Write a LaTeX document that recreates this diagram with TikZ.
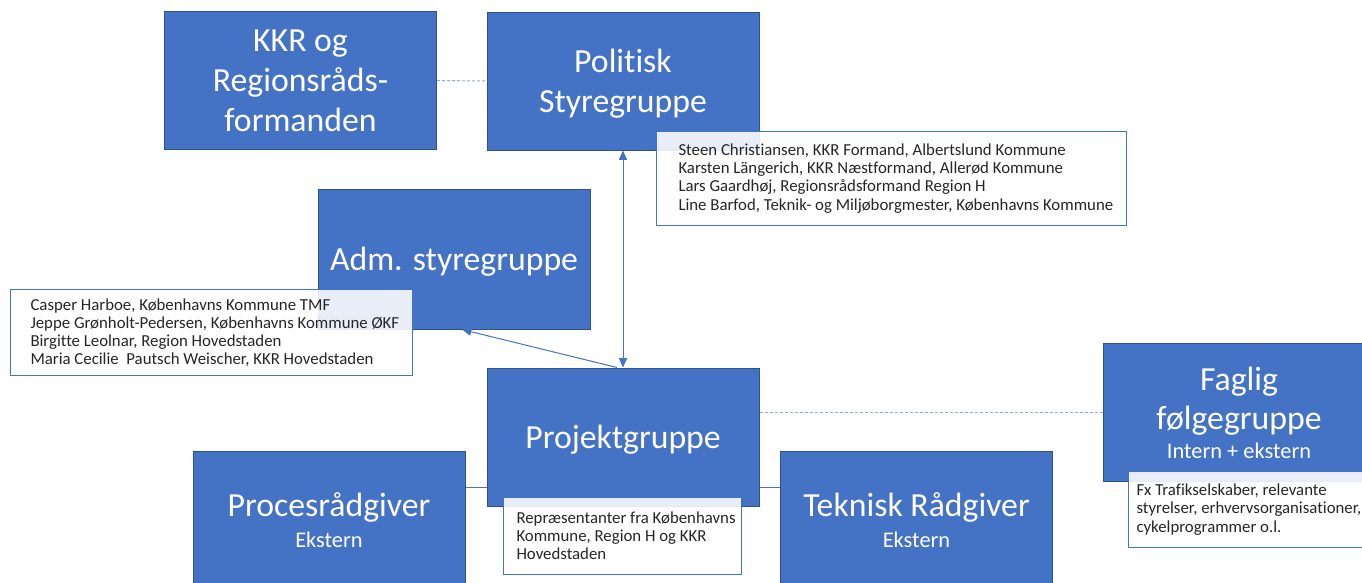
\documentclass[tikz,border=0pt]{standalone}
\usepackage{fontspec}
\setmainfont{Carlito}[Ligatures=NoCommon]
\usetikzlibrary{arrows.meta}

\definecolor{boxblue}{RGB}{68,114,196}
\definecolor{boxedge}{RGB}{47,82,143}
\definecolor{linkblue}{RGB}{68,114,196}
\definecolor{dashblue}{RGB}{143,170,220}
\definecolor{infotxt}{RGB}{38,38,38}

\tikzset{every picture/.style={line width=0.75pt}}
\tikzset{
  orgbox/.style={draw=boxedge, fill=boxblue, text=white, minimum width=204pt, minimum height=103.5pt, align=center, inner sep=0pt, text depth=0pt, font=\fontsize{25.3}{29.8}\selectfont},
  infobox/.style={draw=linkblue, fill=white, fill opacity=0.88, draw opacity=1, anchor=north west, inner sep=0pt},
  infotext/.style={anchor=west, align=left, inner sep=0pt, text=infotxt, font=\fontsize{12.6}{13.6}\selectfont},
  link/.style={draw=linkblue, line width=0.75pt},
  dashlink/.style={draw=dashblue, line width=0.75pt, dash pattern=on 2.25pt off 1.5pt},
  tiphead/.style={-{Triangle[length=7pt,width=6pt]}},
  bothheads/.style={{Triangle[length=7pt,width=6pt]}-{Triangle[length=7pt,width=6pt]}}
}
\newcommand{\subline}[1]{{\fontsize{16.8}{21}\selectfont #1}}

\begin{document}
\begin{tikzpicture}[x=0.75pt,y=0.75pt,yscale=-1,xscale=1]
    \clip (0,0) rectangle (1362,582);

    % Boxes
    \node [orgbox] (kkr) at (300.5,80.5) {KKR og\\Regionsråds-\\formanden};
    \node [orgbox] (politisk) at (623,81) {Politisk\\Styregruppe};
    \node [orgbox, minimum height=105pt] (adm) at (454,259) {Adm. styregruppe};
    \node [orgbox] (projekt) at (623,437) {Projektgruppe};
    \node [orgbox] (proces) at (329,520) {Procesrådgiver\\[-7pt]\subline{Ekstern}};
    \node [orgbox] (teknisk) at (916.5,520) {Teknisk Rådgiver\\[-7pt]\subline{Ekstern}};
    \node [orgbox] (faglig) at (1239,412.5) {Faglig\\følgegruppe\\[-8.5pt]\subline{Intern + ekstern}};

    % Connectors
    \draw [dashlink] (kkr.east) -- (politisk.west);
    \draw [link, bothheads] (politisk.south) -- (projekt.north);
    \draw [link, tiphead] ([xshift=-4.5pt]projekt.north) -- ([xshift=6pt]adm.south);
    \draw [link] ([yshift=-24.75pt]proces.east) -- ([yshift=-24.75pt]proces.east -| projekt.west);
    \draw [link] ([yshift=-24.75pt]teknisk.west) -- ([yshift=-24.75pt]teknisk.west -| projekt.east);
    \draw [dashlink] (faglig.west -| projekt.east) -- (faglig.west);

    % Member lists
    \node [infobox, minimum width=352.5pt, minimum height=70.5pt] (polinfo) at (656,131) {};
    \node [infotext] (poltext) at ([xshift=16.5pt]polinfo.west) {Steen Christiansen, KKR Formand, Albertslund Kommune\\Karsten Längerich, KKR Næstformand, Allerød Kommune\\Lars Gaardhøj, Regionsrådsformand Region H\\Line Barfod, Teknik- og Miljøborgmester, Københavns Kommune};
    \node [infobox, minimum width=301.5pt, minimum height=64.5pt] (adminfo) at (10,289) {};
    \node [infotext] (admtext) at ([xshift=15pt]adminfo.west) {Casper Harboe, Københavns Kommune TMF\\Jeppe Grønholt-Pedersen, Københavns Kommune ØKF\\Birgitte Leolnar, Region Hovedstaden\\Maria Cecilie~ Pautsch Weischer, KKR Hovedstaden};
    \node [infobox, minimum width=178.5pt, minimum height=57.75pt] (projinfo) at (503,497) {};
    \node [infotext] (projtext) at ([xshift=9.75pt]projinfo.west) {Repræsentanter fra Københavns\\Kommune, Region H og KKR\\Hovedstaden};
    \node [infobox, minimum width=195pt, minimum height=57pt] (fagliginfo) at (1128,471) {};
    \node [infotext] (faglitext) at ([xshift=6pt]fagliginfo.west) {Fx Trafikselskaber, relevante\\styrelser, erhvervsorganisationer,\\cykelprogrammer o.l.};

\end{tikzpicture}
\end{document}
